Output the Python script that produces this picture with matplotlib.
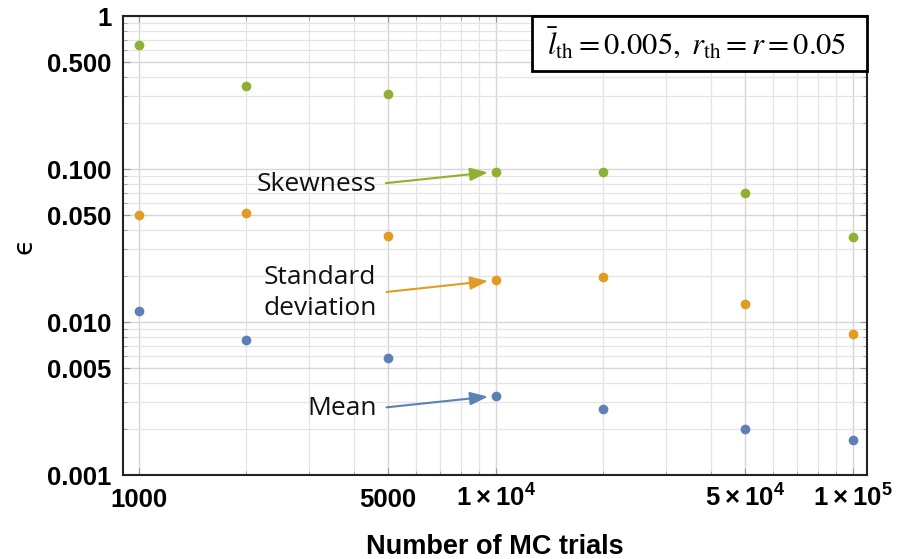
#!/usr/bin/env python3
"""Relative error of the MC estimates versus number of trials (log-log)."""

import matplotlib
matplotlib.use("Agg")
import matplotlib.pyplot as plt
from matplotlib.patches import Rectangle
from matplotlib.ticker import LogLocator, NullFormatter

trials = [1000, 2000, 5000, 10000, 20000, 50000, 100000]
eps_mean = [0.0118, 0.0077, 0.0058, 0.0033, 0.0027, 0.0020, 0.0017]
eps_std = [0.0504, 0.0517, 0.0364, 0.0188, 0.0197, 0.0132, 0.0084]
eps_skew = [0.646, 0.349, 0.310, 0.0964, 0.0964, 0.0698, 0.0360]

x_ticks = [1000, 5000, 10000, 50000, 100000]
x_tick_labels = ["1000", "5000",
                 r"$\mathbf{1\times10^{4}}$",
                 r"$\mathbf{5\times10^{4}}$",
                 r"$\mathbf{1\times10^{5}}$"]
y_ticks = [0.001, 0.005, 0.01, 0.05, 0.1, 0.5, 1]
y_tick_labels = ["0.001", "0.005", "0.010", "0.050", "0.100", "0.500", "1"]

BLUE = "#5e81b5"
ORANGE = "#e19c24"
GREEN = "#8fb032"


def main() -> None:
    plt.rcParams["font.family"] = ["Liberation Sans", "DejaVu Sans"]
    plt.rcParams["mathtext.fontset"] = "custom"
    plt.rcParams["mathtext.rm"] = "Liberation Sans"
    plt.rcParams["mathtext.bf"] = "Liberation Sans:bold"

    fig = plt.figure(figsize=(8.97, 5.59), dpi=100)
    ax = fig.add_axes([0.137, 0.150, 0.8296, 0.821])
    ax.set_xscale("log")
    ax.set_yscale("log")
    ax.set_xlim(904, 1.097e5)
    ax.set_ylim(0.001, 1)

    for values, color in ((eps_mean, BLUE), (eps_std, ORANGE), (eps_skew, GREEN)):
        ax.plot(trials, values, "o", ms=6, color=color, zorder=3)

    ax.xaxis.set_minor_locator(LogLocator(base=10, subs=range(2, 10)))
    ax.yaxis.set_minor_locator(LogLocator(base=10, subs=range(2, 10)))
    ax.xaxis.set_minor_formatter(NullFormatter())
    ax.yaxis.set_minor_formatter(NullFormatter())
    ax.set_xticks(x_ticks, x_tick_labels, fontsize=18.5, fontweight="bold", va="baseline")
    ax.set_yticks(y_ticks, y_tick_labels, fontsize=18.5, fontweight="bold")
    ax.tick_params(axis="x", which="major", pad=23)
    ax.tick_params(axis="y", which="major", pad=8)
    ax.tick_params(which="both", direction="in", top=True, right=True, color="#999999")
    ax.tick_params(which="major", length=5)
    ax.tick_params(which="minor", length=3)

    ax.grid(which="major", color="#d6d6d6", lw=1.0)
    ax.grid(which="minor", color="#e4e4e4", lw=0.9)
    ax.set_axisbelow(True)
    for spine in ax.spines.values():
        spine.set_linewidth(1.5)
        spine.set_color("#222222")

    ax.set_xlabel("Number of MC trials", fontsize=19.5, fontweight="bold")
    ax.xaxis.set_label_coords(0.5, -0.128)
    ax.set_ylabel("\u03f5", fontsize=19, family="DejaVu Sans")
    ax.yaxis.set_label_coords(-0.115, 0.5)

    # labels with arrows pointing at the 10^4 points
    arrow = dict(arrowstyle="-|>,head_length=0.57,head_width=0.21", lw=1.5,
                 shrinkA=5, shrinkB=5.5, relpos=(1, 0.5))
    note_font = dict(fontsize=19, family="Open Sans", ha="right", color="#111111")
    ax.annotate("Skewness", xy=(trials[3], eps_skew[3]), xytext=(-86, -13.7),
                textcoords="offset points", va="baseline",
                arrowprops=dict(arrow, color=GREEN), **note_font)
    ax.annotate("Standard\ndeviation", xy=(trials[3], eps_std[3]), xytext=(-85.5, -9.2),
                textcoords="offset points", va="center", multialignment="center",
                linespacing=1.35, arrowprops=dict(arrow, color=ORANGE), **note_font)
    ax.annotate("Mean", xy=(trials[3], eps_mean[3]), xytext=(-85.5, -13.7),
                textcoords="offset points", va="baseline",
                arrowprops=dict(arrow, color=BLUE), **note_font)

    # parameter box in the upper right corner
    box = Rectangle((0.5497, 0.880), 0.4503, 0.120, transform=ax.transAxes,
                    facecolor="white", edgecolor="black", lw=2, zorder=5, clip_on=False)
    ax.add_patch(box)
    ax.text(0.7715, 0.94, r"$\bar{l}_{\mathrm{th}} = 0.005,\ r_{\mathrm{th}} = r = 0.05$",
            transform=ax.transAxes, ha="center", va="center", fontsize=22,
            math_fontfamily="stix", zorder=6)

    fig.savefig("out.png", dpi=100)


if __name__ == "__main__":
    main()
